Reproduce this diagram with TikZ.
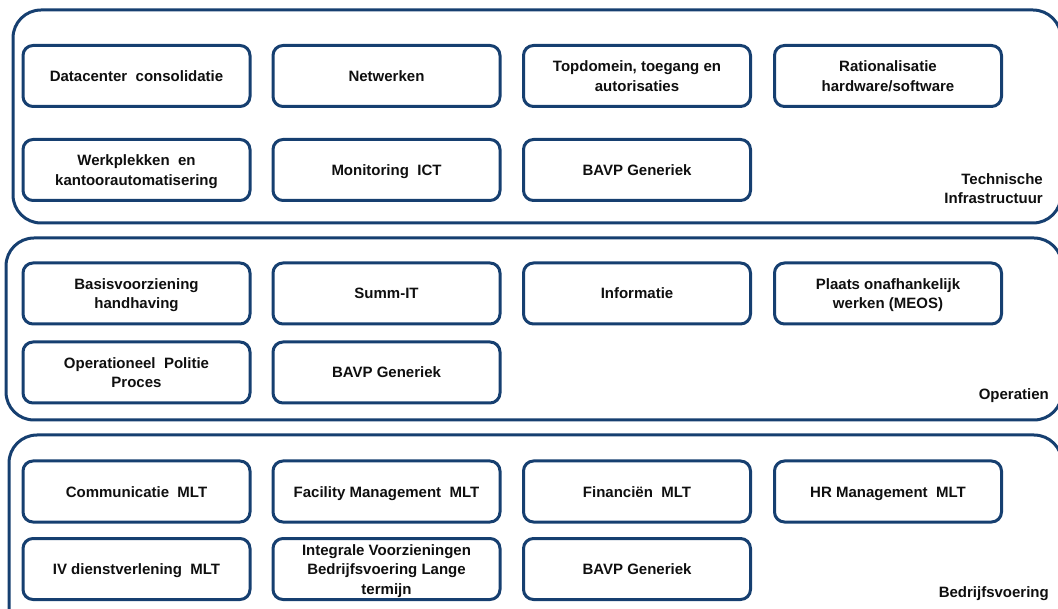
\documentclass[tikz,border=0pt]{standalone}
\usepackage{fontspec}
\setmainfont{Liberation Sans}
\definecolor{dblue}{RGB}{22,63,112}
\definecolor{txt}{RGB}{15,15,15}
\newcommand{\wsp}{\hspace{0.28em}}
\newcommand{\st}{\rule[-4pt]{0pt}{19pt}}
\begin{document}
\begin{tikzpicture}[x=1pt,y=-1pt,
  cont/.style={draw=dblue, line width=3pt, rounded corners=28pt, inner sep=0pt},
  item/.style={draw=dblue, line width=3pt, rounded corners=10pt, minimum width=227pt, minimum height=61pt, align=center, font=\bfseries\fontsize{15}{19.5}\selectfont, text=txt, inner sep=0pt},
  lab/.style={align=right, inner sep=0pt, font=\bfseries\fontsize{15}{19.5}\selectfont, text=txt}]
\useasboundingbox (0,0) rectangle (1058,609);
\clip (0,0) rectangle (1058,609);
% containers
\node[cont, minimum width=1048pt, minimum height=213pt] (ti) at (537,116.5) {};
\node[cont, minimum width=1056pt, minimum height=182pt] (op) at (534,329) {};
\node[cont, minimum width=1053pt, minimum height=205pt] (bv) at (535.5,537.5) {};
% Technische Infrastructuur
\node[item] (t1) at (136.5,76) {\st Datacenter\wsp{} consolidatie};
\node[item] (t2) at (386.5,76) {\st Netwerken};
\node[item] (t3) at (637,76) {\st Topdomein, toegang en\\\st autorisaties};
\node[item] (t4) at (888,76) {\st Rationalisatie\\\st hardware/software};
\node[item] (t5) at (136.5,170) {\st Werkplekken\wsp{} en\\\st kantoorautomatisering};
\node[item] (t6) at (386.5,170) {\st Monitoring\wsp{} ICT};
\node[item] (t7) at (637,170) {\st BAVP Generiek};
\node[lab, anchor=north east] (tl) at (1043,173) {Technische\\Infrastructuur};
% Operatien
\node[item] (o1) at (136.5,293.5) {\st Basisvoorziening\\\st handhaving};
\node[item] (o2) at (386.5,293.5) {\st Summ-IT};
\node[item] (o3) at (637,293.5) {\st Informatie};
\node[item] (o4) at (888,293.5) {\st Plaats onafhankelijk\\\st werken (MEOS)};
\node[item] (o5) at (136.5,372.5) {\st Operationeel\wsp{} Politie\\\st Proces};
\node[item] (o6) at (386.5,372.5) {\st BAVP Generiek};
\node[lab, anchor=base east] (ol) at (1049,400) {Operatien};
% Bedrijfsvoering
\node[item] (b1) at (136.5,491.5) {\st Communicatie\wsp{} MLT};
\node[item] (b2) at (386.5,491.5) {\st Facility Management\wsp{} MLT};
\node[item] (b3) at (637,491.5) {\st Financiën\wsp{} MLT};
\node[item] (b4) at (888,491.5) {\st HR Management\wsp{} MLT};
\node[item] (b5) at (136.5,569) {\st IV dienstverlening\wsp{} MLT};
\node[item] (b6) at (386.5,569) {\st Integrale Voorzieningen\\\st Bedrijfsvoering Lange\\\st termijn};
\node[item] (b7) at (637,569) {\st BAVP Generiek};
\node[lab, anchor=base east] (bl) at (1049,597) {Bedrijfsvoering};
\end{tikzpicture}
\end{document}
